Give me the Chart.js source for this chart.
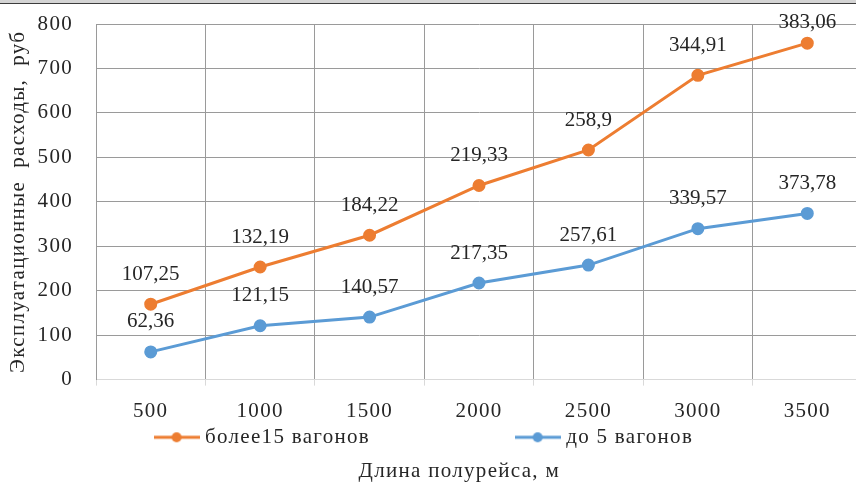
<!DOCTYPE html>
<html>
<head>
<meta charset="utf-8">
<script src="https://cdn.jsdelivr.net/npm/chart.js@4.4.1/dist/chart.umd.min.js"></script>
<style>
    html, body { margin: 0; padding: 0; background: #fff; overflow: hidden; }
    #wrap { position: relative; width: 856px; height: 484px; overflow: hidden; }
    #topbar { position: absolute; left: 0; top: 0; width: 856px; height: 3px; background: #d4d4d4; border-bottom: 1px solid #3c3c3c; }
    canvas { display: block; }
</style>
</head>
<body>
<div id="wrap">
    <canvas id="costChart" width="870" height="484"></canvas>
    <div id="topbar"></div>
</div>
<script>
// Длина полурейса, м
const lengths = ['500', '1000', '1500', '2000', '2500', '3000', '3500'];
// эксплуатационные расходы, руб (серии стекаются, как в исходнике)
const upTo5Wagons = [62.36, 121.15, 140.57, 217.35, 257.61, 339.57, 373.78];
const over15Wagons = [107.25, 132.19, 184.22, 219.33, 258.9, 344.91, 383.06];
const yMin = 0;
const yMax = 800;
const yStep = 100;

const serif = '"Liberation Serif", "Times New Roman", serif';
const textColor = '#262626';
const orange = '#ED7D31';
const blue = '#5B9BD5';

// legend marker: line with a dot in the middle
function legendMarker(color) {
    const c = document.createElement('canvas');
    c.width = 46;
    c.height = 12;
    const g = c.getContext('2d');
    g.strokeStyle = color;
    g.lineWidth = 3;
    g.beginPath();
    g.moveTo(0, 6);
    g.lineTo(46, 6);
    g.stroke();
    g.fillStyle = color;
    g.beginPath();
    g.arc(23, 6, 5, 0, Math.PI * 2);
    g.fill();
    return c;
}

// the source text is a bit wider spaced than Liberation Serif
const spacing = {
    id: 'spacing',
    beforeLayout(chart) { chart.ctx.letterSpacing = '1.3px'; },
    beforeDraw(chart) { chart.ctx.letterSpacing = '1.3px'; }
};

// value labels above the points
const valueLabels = {
    id: 'valueLabels',
    afterDatasetsDraw(chart) {
        const ctx = chart.ctx;
        ctx.save();
        ctx.letterSpacing = '0px';
        ctx.font = '21px ' + serif;
        ctx.fillStyle = textColor;
        ctx.textAlign = 'center';
        ctx.textBaseline = 'middle';
        chart.data.datasets.forEach((ds, i) => {
            chart.getDatasetMeta(i).data.forEach((pt, j) => {
                const y = Math.max(pt.y - 30, chart.chartArea.top - 2);
                ctx.fillText(String(ds.data[j]).replace('.', ','), pt.x, y);
            });
        });
        ctx.restore();
    }
};

document.addEventListener('DOMContentLoaded', function () {
    const ctx = document.getElementById('costChart').getContext('2d');
    const markers = [legendMarker(blue), legendMarker(orange)];

    new Chart(ctx, {
        type: 'line',
        data: {
            labels: lengths,
            datasets: [{
                label: 'до 5 вагонов',
                data: upTo5Wagons,
                borderColor: blue,
                backgroundColor: blue,
                borderWidth: 3,
                pointRadius: 5,
                pointHoverRadius: 5,
                tension: 0
            }, {
                label: 'более15 вагонов',
                data: over15Wagons,
                borderColor: orange,
                backgroundColor: orange,
                borderWidth: 3,
                pointRadius: 5,
                pointHoverRadius: 5,
                tension: 0
            }]
        },
        options: {
            responsive: false,
            animation: false,
            layout: {
                padding: { left: 4, top: 24, right: 0, bottom: 0 }
            },
            scales: {
                x: {
                    offset: true,
                    afterFit(scale) { scale.height -= 14; },
                    grid: {
                        offset: true,
                        color: '#9a9a9a',
                        tickColor: '#d9d9d9',
                        tickLength: 6
                    },
                    border: { color: '#d9d9d9' },
                    ticks: {
                        padding: 13,
                        color: textColor,
                        font: { family: serif, size: 21 }
                    }
                },
                y: {
                    stacked: true,
                    min: yMin,
                    max: yMax,
                    afterFit(scale) {
                        scale.width = 92;
                        scale.paddingTop = 0;
                        scale.paddingBottom = 0;
                    },
                    grid: {
                        drawTicks: false,
                        color: c => c.tick.value === 0 ? '#d9d9d9' : '#9a9a9a'
                    },
                    border: { color: '#9a9a9a' },
                    ticks: {
                        stepSize: yStep,
                        padding: 23,
                        color: textColor,
                        font: { family: serif, size: 21 }
                    },
                    title: {
                        display: true,
                        text: 'Эксплуатационные  расходы,  руб',
                        color: textColor,
                        font: { family: serif, size: 21 },
                        padding: { top: 2, bottom: 10 }
                    }
                }
            },
            plugins: {
                legend: {
                    position: 'bottom',
                    reverse: true,
                    labels: {
                        usePointStyle: true,
                        pointStyleWidth: 36,
                        padding: 4,
                        color: textColor,
                        font: { family: serif, size: 21 },
                        generateLabels(chart) {
                            const items = Chart.defaults.plugins.legend.labels.generateLabels(chart);
                            items.forEach(it => {
                                it.pointStyle = markers[it.datasetIndex];
                                it.text += it.datasetIndex === 1 ? '\u2003'.repeat(6) + '\u2002' : '\u2003';
                            });
                            return items;
                        }
                    }
                },
                title: {
                    display: true,
                    position: 'bottom',
                    // leading spaces push the centred title right, as in the source
                    text: '\u2003\u2003Длина полурейса, м',
                    color: textColor,
                    font: { family: serif, size: 21, weight: 'normal' },
                    padding: { top: 1, bottom: 0 }
                },
                tooltip: { enabled: false }
            }
        },
        plugins: [spacing, valueLabels]
    });
});
</script>
</body>
</html>
